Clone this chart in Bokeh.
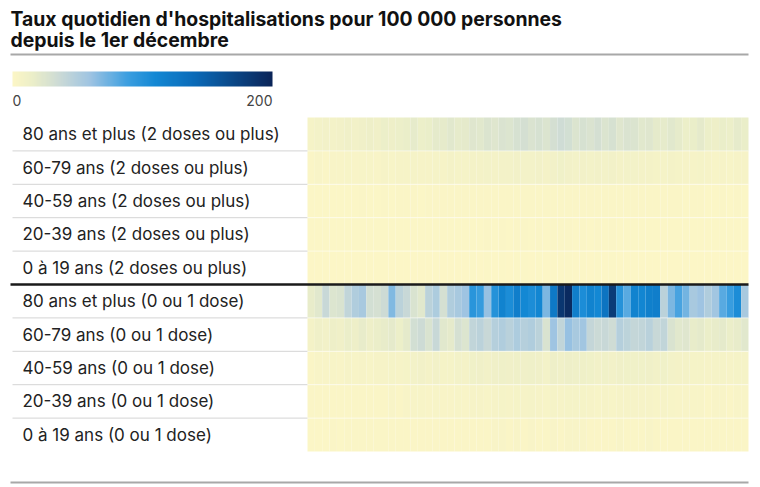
import numpy as np
from bokeh.plotting import figure
from bokeh.core.properties import value
from bokeh.models import Range1d, Label, LabelSet, ColumnDataSource, LinearColorMapper, ColorBar, FixedTicker
from bokeh.embed import file_html
from bokeh.resources import INLINE

# ---------------- data ----------------
title_lines = ["Taux quotidien d'hospitalisations pour 100 000 personnes",
               "depuis le 1er décembre"]
row_labels = [
    "80 ans et plus (2 doses ou plus)",
    "60-79 ans (2 doses ou plus)",
    "40-59 ans (2 doses ou plus)",
    "20-39 ans (2 doses ou plus)",
    "0 à 19 ans (2 doses ou plus)",
    "80 ans et plus (0 ou 1 dose)",
    "60-79 ans (0 ou 1 dose)",
    "40-59 ans (0 ou 1 dose)",
    "20-39 ans (0 ou 1 dose)",
    "0 à 19 ans (0 ou 1 dose)",
]
scale_min, scale_max = 0, 200

v80_vax = [7, 9, 10, 9, 10, 12, 10, 12, 14, 12, 15, 14, 15, 17, 19, 15, 17, 20, 19, 22,
           19, 20, 24, 22, 26, 24, 27, 25, 29, 31, 27, 29, 26, 31, 34, 32, 26, 29, 27, 31,
           26, 29, 24, 27, 26, 22, 24, 20, 19, 22, 19, 15, 17, 20, 15, 14, 17, 15, 19, 17]
v60_vax = [3, 4, 3, 4, 4, 5, 4, 5, 5, 4, 6, 5, 6, 6, 7, 6, 6, 7, 6, 8,
           7, 7, 8, 8, 9, 8, 9, 9, 10, 9, 9, 10, 8, 10, 11, 10, 9, 10, 9, 10,
           9, 10, 8, 9, 9, 8, 8, 7, 7, 8, 7, 6, 6, 7, 6, 5, 6, 5, 6, 6]
v40_vax = [1, 1, 1, 1, 1, 1, 1, 2, 1, 1, 2, 1, 2, 2, 2, 1, 2, 2, 2, 2,
           2, 2, 2, 2, 3, 2, 3, 2, 3, 3, 2, 3, 2, 3, 3, 3, 2, 3, 2, 3,
           2, 3, 2, 2, 2, 2, 2, 2, 2, 2, 2, 1, 2, 2, 1, 1, 2, 1, 2, 1]
v20_vax = [1, 1, 1, 1, 1, 1, 1, 1, 1, 1, 1, 1, 1, 1, 1, 1, 1, 1, 1, 1,
           1, 1, 1, 1, 2, 1, 2, 1, 2, 2, 1, 2, 1, 2, 2, 2, 1, 2, 1, 2,
           1, 2, 1, 1, 1, 1, 1, 1, 1, 1, 1, 1, 1, 1, 1, 1, 1, 1, 1, 1]
v0_vax = [0, 0, 0, 0, 0, 0, 0, 0, 0, 0, 0, 0, 0, 0, 0, 0, 0, 0, 0, 0,
          0, 0, 1, 0, 1, 0, 1, 0, 1, 1, 0, 1, 0, 1, 1, 1, 0, 1, 0, 1,
          0, 1, 0, 0, 0, 0, 0, 0, 0, 0, 0, 0, 0, 0, 0, 0, 0, 0, 0, 0]
v80_unv = [18, 22, 38, 25, 28, 42, 50, 55, 32, 30, 35, 68, 45, 38, 28, 22, 45, 52, 30, 50,
           55, 60, 98, 92, 62, 100, 115, 105, 120, 110, 105, 112, 70, 125, 185, 195, 120, 105, 115, 110,
           130, 180, 100, 80, 115, 112, 118, 120, 45, 70, 85, 72, 55, 60, 50, 58, 80, 90, 105, 55]
v60_unv = [8, 12, 10, 14, 12, 16, 14, 18, 14, 16, 18, 20, 15, 20, 32, 35, 28, 38, 22, 20,
           30, 25, 42, 45, 38, 48, 50, 46, 52, 48, 50, 45, 28, 60, 42, 62, 55, 58, 40, 36,
           38, 34, 48, 44, 40, 42, 46, 38, 42, 28, 22, 24, 18, 20, 16, 18, 20, 16, 18, 22]
v40_unv = [3, 4, 4, 5, 4, 6, 5, 6, 5, 6, 6, 7, 6, 7, 9, 10, 8, 10, 7, 7,
           9, 8, 11, 12, 10, 12, 13, 12, 13, 12, 13, 12, 9, 14, 12, 14, 13, 13, 11, 10,
           11, 10, 12, 11, 11, 11, 12, 10, 11, 9, 8, 8, 7, 7, 6, 7, 7, 6, 7, 7]
v20_unv = [2, 2, 2, 3, 2, 3, 3, 3, 3, 3, 3, 4, 3, 4, 5, 5, 4, 5, 4, 4,
           5, 4, 6, 6, 5, 6, 7, 6, 7, 6, 7, 6, 5, 7, 6, 7, 7, 7, 6, 5,
           6, 5, 6, 6, 6, 6, 6, 5, 6, 5, 4, 4, 4, 4, 3, 4, 4, 3, 4, 4]
v0_unv = [1, 1, 1, 2, 1, 2, 2, 2, 2, 2, 2, 2, 2, 2, 3, 3, 2, 3, 2, 2,
          3, 2, 3, 3, 3, 4, 4, 3, 4, 3, 4, 3, 3, 4, 3, 4, 4, 4, 3, 3,
          3, 3, 4, 3, 3, 3, 4, 3, 3, 3, 2, 2, 2, 2, 2, 2, 2, 2, 2, 2]

series = [v80_vax, v60_vax, v40_vax, v20_vax, v0_vax,
          v80_unv, v60_unv, v40_unv, v20_unv, v0_unv]
n_days = len(v80_vax)

# ---------------- palette ----------------
stops = [(0.00, "#fcf6c6"), (0.08, "#ebeec9"), (0.18, "#cbdad6"), (0.30, "#9ec4e2"),
         (0.44, "#3c9fe0"), (0.55, "#1388d4"), (0.70, "#0a6ab8"), (0.85, "#0a4888"),
         (1.00, "#0a2458")]
def hex2rgb(h):
    return np.array([int(h[i:i + 2], 16) for i in (1, 3, 5)], dtype=float)
palette = []
for t in np.linspace(0, 1, 256):
    for (t0, c0), (t1, c1) in zip(stops[:-1], stops[1:]):
        if t0 <= t <= t1:
            f = (t - t0) / (t1 - t0)
            c = hex2rgb(c0) * (1 - f) + hex2rgb(c1) * f
            palette.append("#%02x%02x%02x" % tuple(int(round(v)) for v in c))
            break
mapper = LinearColorMapper(palette=palette, low=scale_min, high=scale_max)

# ---------------- geometry (screen px) ----------------
W, H = 760, 487
HM_LEFT, HM_RIGHT = 307, 748
ROW_TOP, ROW_H = 117, 33.4
px_per = (HM_RIGHT - HM_LEFT) / n_days
x_start = -0.5 - HM_LEFT / px_per
x_end = x_start + W / px_per
y_top = 0.5 + ROW_TOP / ROW_H
y_bot = y_top - H / ROW_H

def xd(sx):
    return x_start + sx / px_per

def yd(sy):
    return y_top - sy / ROW_H

p = figure(width=W, height=H, output_backend="svg", toolbar_location=None,
           x_range=Range1d(x_start, x_end), y_range=Range1d(y_bot, y_top),
           x_axis_location=None, y_axis_location=None, min_border=0,
           outline_line_color=None, background_fill_color="white")
p.grid.visible = False

# heatmap cells
xs, ys, vs = [], [], []
for r, vals in enumerate(series):
    for d, v in enumerate(vals):
        xs.append(d)
        ys.append(-r)
        vs.append(v)
src = ColumnDataSource(dict(x=xs, y=ys, v=vs))
p.rect(x="x", y="y", width=1.0, height=1.0, source=src,
       fill_color={"field": "v", "transform": mapper}, line_color=None)

# row separators
bounds = [-r - 0.5 for r in range(len(series) - 1)]
p.segment(x0=[xd(12)] * len(bounds), x1=[-0.5] * len(bounds), y0=bounds, y1=bounds,
          line_color="#d4d4d4", line_width=1)
p.segment(x0=[-0.5] * len(bounds), x1=[n_days - 0.5] * len(bounds), y0=bounds, y1=bounds,
          line_color="white", line_width=1, line_alpha=0.55)
# thick divider between groups
p.segment(x0=[xd(10)], x1=[n_days - 0.5], y0=[-4.5], y1=[-4.5],
          line_color="#1a1a1a", line_width=2.5)
# title rule and bottom rule
p.segment(x0=[xd(10), xd(10)], x1=[n_days - 0.5, n_days - 0.5],
          y0=[yd(54), yd(482)], y1=[yd(54), yd(482)],
          line_color="#a8a8a8", line_width=2)

# row labels
lab_src = ColumnDataSource(dict(y=[-r for r in range(len(row_labels))], text=row_labels,
                                x=[22] * len(row_labels)))
p.add_layout(LabelSet(x="x", y="y", text="text", source=lab_src, x_units="screen",
                      text_font=value("Inter"), text_font_size=value("17px"),
                      text_color="#222222", text_baseline="middle", text_align="left"))

# title
for i, t in enumerate(title_lines):
    p.add_layout(Label(x=10, y=H - (18 + 21 * i), x_units="screen", y_units="screen", text=t,
                       text_font="Inter", text_font_style="bold", text_font_size="19.4px",
                       text_color="#111111", text_baseline="alphabetic"))

# colour bar
cb = ColorBar(color_mapper=mapper, orientation="horizontal", width=260, height=15,
              location=(12, H - 86), padding=0, margin=0, ticker=FixedTicker(ticks=[]),
              major_tick_line_color=None, bar_line_color=None, border_line_color=None,
              background_fill_alpha=0, title=None)
p.add_layout(cb, "center")
p.add_layout(Label(x=12, y=H - 100, x_units="screen", y_units="screen", text=str(scale_min),
                   text_font="Inter", text_font_size="14px", text_color="#444444",
                   text_align="left", text_baseline="alphabetic"))
p.add_layout(Label(x=272, y=H - 100, x_units="screen", y_units="screen", text=str(scale_max),
                   text_font="Inter", text_font_size="14px", text_color="#444444",
                   text_align="right", text_baseline="alphabetic"))

open("out.html", "w").write(file_html(p, INLINE))
